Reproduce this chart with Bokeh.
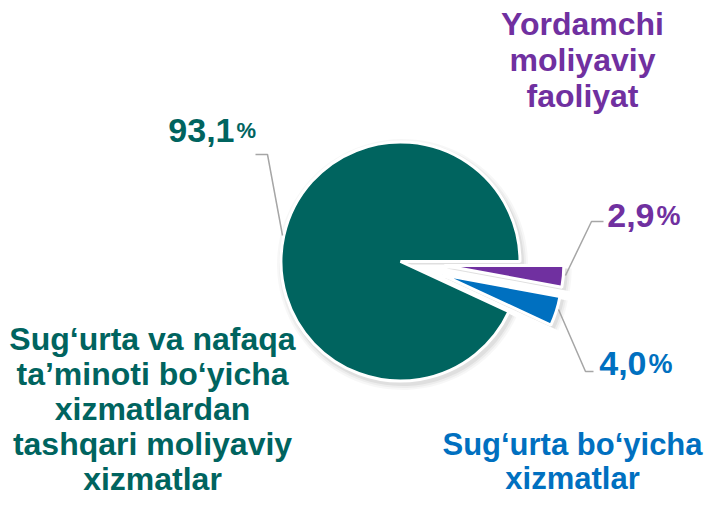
import math
from bokeh.plotting import figure
from bokeh.models import Range1d
from bokeh.core.properties import value
from bokeh.embed import file_html
from bokeh.resources import INLINE

# ---- data ----
categories = ["Yordamchi moliyaviy faoliyat",
              "Sug‘urta bo‘yicha xizmatlar",
              "Sug‘urta va nafaqa ta’minoti bo‘yicha xizmatlardan tashqari moliyaviy xizmatlar"]
shares = [2.9, 4.0, 93.1]
share_labels = ["2,9", "4,0", "93,1"]
category_lines = [["Yordamchi", "moliyaviy", "faoliyat"],
                  ["Sug‘urta bo‘yicha", "xizmatlar"],
                  ["Sug‘urta va nafaqa", "ta’minoti bo‘yicha", "xizmatlardan",
                   "tashqari moliyaviy", "xizmatlar"]]

# ---- styles / layout ----
colors = ["#7030A0", "#0070C0", "#00645F"]
explode = [44, 44, 0]
FONT = value("Liberation Sans")
H = 515  # data y = H - page_y
TXT = 12  # text baseline correction (px)
cx, cy = 400, H - 261
R = 119.5

p = figure(width=707, height=499, output_backend="svg", toolbar_location=None,
           x_range=Range1d(0, 707), y_range=Range1d(16, 515),
           min_border=0, match_aspect=False)
p.axis.visible = False
p.grid.visible = False
p.outline_line_color = None
p.background_fill_color = "white"

total = sum(shares)
cum = 0.0
wedges = []
for i, s in enumerate(shares):
    a0 = -cum / total * 2 * math.pi
    cum += s
    a1 = -cum / total * 2 * math.pi
    mid = (a0 + a1) / 2
    ox = cx + explode[i] * math.cos(mid)
    oy = cy + explode[i] * math.sin(mid)
    wedges.append((ox, oy, a1, a0, colors[i]))

# soft shadow
for (ox, oy, a1, a0, col) in wedges:
    for k, al in [(6, 0.03), (4, 0.04), (2, 0.06)]:
        p.wedge(x=[ox + 2], y=[oy - 3], radius=R + k, start_angle=[a1], end_angle=[a0],
                fill_color="black", fill_alpha=al, line_color=None)

for (ox, oy, a1, a0, col) in wedges:
    p.wedge(x=[ox], y=[oy], radius=R, start_angle=[a1], end_angle=[a0],
            fill_color=col, line_color="white", line_width=3)

# leader lines (page coords)
leaders = [[(603, 221), (591, 221), (565, 275)],
           [(593, 371), (585, 371), (558, 309)],
           [(255, 154), (267, 154), (282, 235)]]
p.multi_line(xs=[[pt[0] for pt in l] for l in leaders],
             ys=[[H - pt[1] for pt in l] for l in leaders],
             line_color="#A6A6A6", line_width=1.5)

# value labels
num_pos = [(654, 227, 34, 27), (646, 375, 34, 27), (234, 142, 34, 22)]
for i, (x, y, fs, ps) in enumerate(num_pos):
    p.text(x=[x], y=[H - y + TXT], text=[share_labels[i]], text_font=FONT, text_font_style="bold",
           text_font_size=f"{fs}px", text_align="right", text_baseline="alphabetic",
           text_color=colors[i])
    p.text(x=[x + 2], y=[H - y + TXT], text=["%"], text_font=FONT, text_font_style="bold",
           text_font_size=f"{ps}px", text_align="left", text_baseline="alphabetic",
           text_color=colors[i])

# category labels
cat_pos = [(582, [35, 71, 107], 32), (572, [456, 490], 31), (152, [350, 385, 420, 455, 490], 32)]
for i, (x, ys, fs) in enumerate(cat_pos):
    p.text(x=[x] * len(ys), y=[H - y + TXT for y in ys], text=category_lines[i], text_font=FONT,
           text_font_style="bold", text_font_size=f"{fs}px", text_align="center",
           text_baseline="alphabetic", text_color=colors[i])

open("out.html", "w").write(file_html(p, INLINE))
